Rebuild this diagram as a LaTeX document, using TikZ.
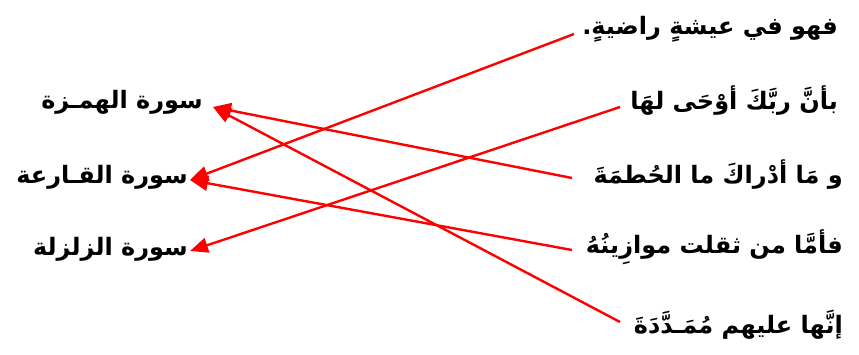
\documentclass[tikz,border=0pt]{standalone}
\usepackage{fontspec}
\usetikzlibrary{arrows.meta}
\TeXXeTstate=1
\newfontfamily\arabicfont[Script=Arabic]{DejaVu Sans}
\tikzset{
  lbl/.style={font=\arabicfont\bfseries\fontsize{24}{28}\selectfont, inner sep=0pt, anchor=east, text=black},
  link/.style={draw=red, line width=2.4pt, -{Triangle[length=18pt,width=15pt]}},
}
\begin{document}
\begin{tikzpicture}[x=1pt,y=-1pt]
\useasboundingbox (0,0) rectangle (859,354);
% right column
\node[lbl] (v1) at (838,29) {\beginR فهو في عيشةٍ راضيةٍ.\endR};
\node[lbl] (v2) at (838,101) {\beginR بأنَّ ربَّكَ أوْحَى لهَا\endR};
\node[lbl] (v3) at (843,175) {\beginR و مَا أدْراكَ ما الحُطمَةَ\endR};
\node[lbl] (v4) at (843,247) {\beginR فأمَّا من ثقلت موازِينُهُ\endR};
\node[lbl] (v5) at (843,325) {\beginR إنَّها عليهم مُمَـدَّدَةَ\endR};
% left column
\node[lbl] (humaza) at (203,102) {\beginR سورة الهمـزة\endR};
\node[lbl] (qaria) at (188,177) {\beginR سورة القـارعة\endR};
\node[lbl] (zalzala) at (188,249) {\beginR سورة الزلزلة\endR};
% connector ends
\coordinate (e1) at (574,34);
\coordinate (e2) at (620,107);
\coordinate (e3) at (572,178);
\coordinate (e4) at (572,250);
\coordinate (e5) at (620,322);
\coordinate (th) at (213,107);
\coordinate (tq) at (190,180);
\coordinate (tz) at (190,251);
\draw[link] (e1) -- (tq);
\draw[link] (e2) -- (tz);
\draw[link] (e3) -- (th);
\draw[link] (e4) -- (tq);
\draw[link] (e5) -- (th);
\end{tikzpicture}
\end{document}
